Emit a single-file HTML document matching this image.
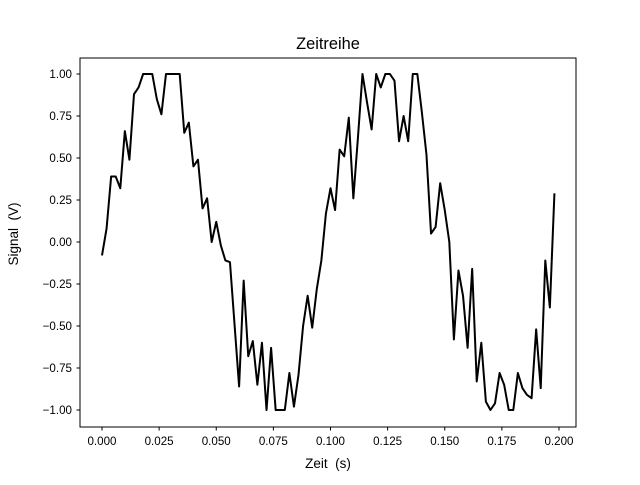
<!DOCTYPE html>
<html><head><meta charset="utf-8"><style>
body{margin:0;background:#fff}
svg text{font-family:"Liberation Sans","DejaVu Sans",sans-serif;fill:#000;white-space:pre}
</style></head><body>
<svg id="chart" width="640" height="480" xmlns="http://www.w3.org/2000/svg" xml:space="preserve">
<rect width="640" height="480" fill="#fff"/>
<text x="328" y="49" font-size="16.4" text-anchor="middle">Zeitreihe</text>
<g id="xt"></g><g id="yt"></g>
<polyline id="line" fill="none" stroke="#000" stroke-width="2" stroke-linejoin="round"/>
<rect x="80" y="58" width="496" height="369" fill="none" stroke="#000" stroke-width="1"/>
<text x="328" y="468" font-size="13.5" text-anchor="middle">Zeit  (s)</text>
<text x="18" y="234" font-size="13.5" text-anchor="middle" transform="rotate(-90 18 234)">Signal  (V)</text>
</svg>
<script>
const dt = 0.002;
const values = [-0.08,0.08,0.39,0.39,0.32,0.66,0.49,0.88,0.92,1,1,1,0.85,0.76,1,1,1,1,0.65,0.71,0.45,0.49,0.2,0.26,0,0.12,-0.02,-0.11,-0.12,-0.49,-0.86,-0.23,-0.68,-0.59,-0.85,-0.6,-1,-0.63,-1,-1,-1,-0.78,-0.98,-0.79,-0.5,-0.32,-0.51,-0.28,-0.11,0.17,0.32,0.19,0.55,0.51,0.74,0.26,0.62,1,0.83,0.67,1,0.92,1,1,0.96,0.6,0.75,0.6,1,1,0.77,0.52,0.05,0.09,0.35,0.19,0,-0.58,-0.17,-0.32,-0.63,-0.16,-0.83,-0.6,-0.95,-1,-0.96,-0.78,-0.85,-1,-1,-0.78,-0.87,-0.91,-0.93,-0.52,-0.87,-0.11,-0.39,0.29];
const xTicks = ["0.000","0.025","0.050","0.075","0.100","0.125","0.150","0.175","0.200"];
const yTicks = ["−1.00","−0.75","−0.50","−0.25","0.00","0.25","0.50","0.75","1.00"];
const xs = t => 102 + t * 2285;
const ys = v => 242 - v * 168;
const NS = "http://www.w3.org/2000/svg";
document.getElementById('line').setAttribute('points', values.map((v,i)=>xs(i*dt)+','+ys(v)).join(' '));
const xg = document.getElementById('xt'), yg = document.getElementById('yt');
xTicks.forEach(s=>{
  const x = xs(parseFloat(s));
  const l = document.createElementNS(NS,'line');
  l.setAttribute('x1',x);l.setAttribute('x2',x);l.setAttribute('y1',427);l.setAttribute('y2',430.5);l.setAttribute('stroke','#000');
  
  
  xg.appendChild(l);
  const t = document.createElementNS(NS,'text');
  t.setAttribute('x',x);t.setAttribute('y',445);t.setAttribute('font-size','11.6');t.setAttribute('text-anchor','middle');
  t.textContent = s;
  
  
  xg.appendChild(t);
});
yTicks.forEach(s=>{
  const y = ys(parseFloat(s.replace('−','-')));
  const l = document.createElementNS(NS,'line');
  l.setAttribute('x1',76.5);l.setAttribute('x2',80);l.setAttribute('y1',y);l.setAttribute('y2',y);l.setAttribute('stroke','#000');
  
  
  yg.appendChild(l);
  const t = document.createElementNS(NS,'text');
  t.setAttribute('x',72);t.setAttribute('y',y+4.2);t.setAttribute('font-size','11.6');t.setAttribute('text-anchor','end');
  t.textContent = s;
  
  
  yg.appendChild(t);
});
</script>
</body></html>
